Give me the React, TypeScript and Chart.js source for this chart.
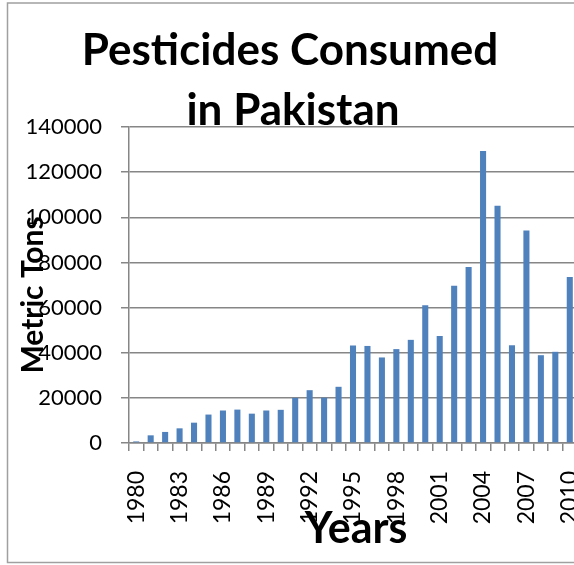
import React, { useEffect, useRef } from "react";
import { Chart, registerables } from "chart.js";

Chart.register(...registerables);

const years: string[] = [
  "1980", "1981", "1982", "1983", "1984", "1985", "1986", "1987", "1988", "1989",
  "1990", "1991", "1992", "1993", "1994", "1995", "1996", "1997", "1998", "1999",
  "2000", "2001", "2002", "2003", "2004", "2005", "2006", "2007", "2008", "2009",
  "2010",
];

const metricTons: number[] = [
  700, 3400, 4900, 6500, 9000, 12600, 14400, 14800, 13000, 14400,
  14700, 20000, 23400, 20100, 24900, 43200, 43000, 37900, 41600, 45700,
  61000, 47400, 69700, 78000, 129400, 105100, 43300, 94200, 38900, 40400,
  73500,
];

const titleLines: string[] = ["Pesticides Consumed", "in Pakistan"];
const yTitle = "Metric Tons";
const xTitle = "Years";

const FONT = "Lato, 'Open Sans', 'DejaVu Sans', sans-serif";

const decorPlugin = {
  id: "decor",
  beforeDraw(chart: any) {
    const ctx = chart.ctx;
    ctx.save();
    ctx.fillStyle = "#ffffff";
    ctx.fillRect(0, 0, chart.width, chart.height);
    ctx.strokeStyle = "#a0a0a0";
    ctx.lineWidth = 1.5;
    ctx.strokeRect(7.5, 3, chart.width + 50, 559.5);
    ctx.restore();
  },
  afterDraw(chart: any) {
    const ctx = chart.ctx;
    ctx.save();
    ctx.fillStyle = "#000000";
    ctx.textAlign = "center";
    ctx.textBaseline = "alphabetic";
    ctx.font = `bold 44px ${FONT}`;
    ctx.fillText(titleLines[0], 290, 65);
    ctx.fillText(titleLines[1], 293, 125);

    ctx.font = `bold 43px ${FONT}`;
    ctx.fillText(xTitle, 356, 543);

    ctx.translate(43, 295);
    ctx.rotate(-Math.PI / 2);
    ctx.font = `bold 30px ${FONT}`;
    ctx.fillText(yTitle, 0, 0);
    ctx.restore();
  },
};

export default function App() {
  const ref = useRef<HTMLCanvasElement>(null);
  useEffect(() => {
    if (!ref.current) return;
    const chart = new Chart(ref.current, {
      type: "bar",
      data: {
        labels: years,
        datasets: [
          {
            label: "Metric Tons",
            data: metricTons,
            backgroundColor: "#4F81BD",
            borderWidth: 0,
            categoryPercentage: 1,
            barPercentage: 0.42,
          },
        ],
      },
      options: {
        responsive: false,
        animation: false,
        layout: { padding: { top: 127, right: 43, left: 0, bottom: 0 } },
        plugins: {
          legend: { display: false },
          title: { display: false },
          tooltip: { enabled: false },
        },
        scales: {
          x: {
            offset: true,
            grid: {
              offset: true,
              drawOnChartArea: false,
              drawTicks: true,
              tickLength: 8,
              color: "#868686",
              lineWidth: 1.5,
            },
            border: { color: "#868686", width: 1.5 },
            ticks: {
              autoSkip: false,
              minRotation: 90,
              maxRotation: 90,
              padding: 20,
              color: "#000000",
              font: { family: FONT, size: 23 },
              callback: (_v: any, i: number) => (i % 3 === 0 ? years[i] : ""),
            },
            afterFit: (scale: any) => {
              scale.height = 122;
            },
          },
          y: {
            min: 0,
            max: 140000,
            ticks: {
              stepSize: 20000,
              padding: 19,
              color: "#000000",
              font: { family: FONT, size: 22 },
              callback: (v: any) => String(v),
            },
            grid: {
              color: "#868686",
              lineWidth: 1.5,
              tickLength: 8,
            },
            border: { color: "#868686", width: 1.5 },
            afterFit: (scale: any) => {
              scale.width = 129;
            },
          },
        },
      },
      plugins: [decorPlugin],
    });
    return () => chart.destroy();
  }, []);

  return (
    <div
      style={{
        position: "fixed",
        left: 0,
        top: 0,
        width: 574,
        height: 565,
        overflow: "hidden",
        background: "#fff",
      }}
    >
      <canvas ref={ref} width={620} height={565} style={{ display: "block" }} />
    </div>
  );
}
